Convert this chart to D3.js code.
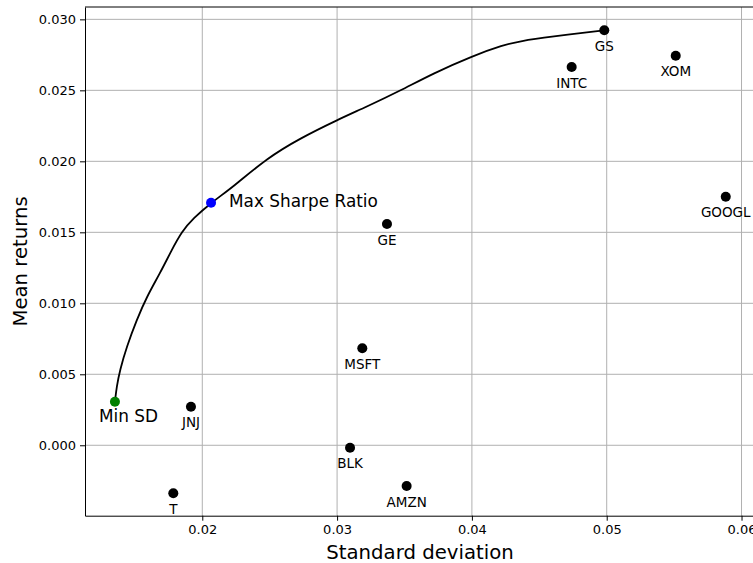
<!DOCTYPE html>
<html>
<head>
<meta charset="utf-8">
<script src="https://cdn.jsdelivr.net/npm/d3@7"></script>
<style>
  body { margin: 0; background: #fff; overflow: hidden; }
  text { font-family: "DejaVu Sans", sans-serif; fill: #000; }
</style>
</head>
<body>
<script>
// stocks (std dev, mean return)
var tickers = ["GS", "XOM", "INTC", "GOOGL", "GE", "MSFT", "JNJ", "BLK", "AMZN", "T"];
var stockSD = [0.04982, 0.05512, 0.04740, 0.05883, 0.03370, 0.03187, 0.01916, 0.03096, 0.03516, 0.01785];
var stockRet = [0.02923, 0.02744, 0.02664, 0.01751, 0.01558, 0.00683, 0.00272, -0.00017, -0.00287, -0.00338];

// efficient frontier
var frontierSD = [0.01352, 0.01365, 0.01389, 0.01439, 0.01513, 0.01588, 0.01686, 0.01773, 0.01847, 0.01933,
                  0.02065, 0.02230, 0.02478, 0.02725, 0.03000, 0.03220, 0.03467, 0.03714, 0.04003, 0.04233,
                  0.04357, 0.04579, 0.04982];
var frontierRet = [0.00307, 0.00413, 0.00530, 0.00694, 0.00882, 0.01046, 0.01211, 0.01375, 0.01504, 0.01599,
                   0.01708, 0.01821, 0.02021, 0.02162, 0.02291, 0.02385, 0.02497, 0.02620, 0.02742, 0.02819,
                   0.02847, 0.02877, 0.02923];

var minSD = [0.01352, 0.00307];
var maxSharpe = [0.02065, 0.01708];

var xTicks = [0.02, 0.03, 0.04, 0.05, 0.06];
var yTicks = [0.000, 0.005, 0.010, 0.015, 0.020, 0.025, 0.030];

var margin = {top: 7, left: 85},
    width = 670,
    height = 508.7;

var svg = d3.select("body").append("svg")
    .attr("width", 753)
    .attr("height", 563);

var g = svg.append("g")
    .attr("transform", "translate(" + margin.left + "," + margin.top + ")");

var x = d3.scaleLinear().domain([0.0113, 0.0610]).range([0, width]);
var y = d3.scaleLinear().domain([-0.00496, 0.03087]).range([height, 0]);

// grid
g.append("g").selectAll("line").data(xTicks).enter().append("line")
    .attr("x1", function (d) { return x(d); })
    .attr("x2", function (d) { return x(d); })
    .attr("y1", 0).attr("y2", height)
    .attr("stroke", "#b0b0b0").attr("stroke-width", 1);
g.append("g").selectAll("line").data(yTicks).enter().append("line")
    .attr("y1", function (d) { return y(d); })
    .attr("y2", function (d) { return y(d); })
    .attr("x1", 0).attr("x2", width)
    .attr("stroke", "#b0b0b0").attr("stroke-width", 1);

// axes
var xAxis = g.append("g")
    .attr("transform", "translate(0," + height + ")")
    .call(d3.axisBottom(x).tickValues(xTicks).tickFormat(d3.format(".2f")).tickSize(5).tickPadding(4).tickSizeOuter(0));
var yAxis = g.append("g")
    .call(d3.axisLeft(y).tickValues(yTicks).tickFormat(d3.format(".3f")).tickSize(5).tickPadding(4).tickSizeOuter(0));
[xAxis, yAxis].forEach(function (a) {
    a.selectAll("text").style("font-size", "13px").style("font-family", "DejaVu Sans");
    a.select(".domain").attr("stroke", "#000");
    a.selectAll(".tick line").attr("stroke", "#000");
});

// top and right spines
g.append("line").attr("x1", 0).attr("x2", width).attr("y1", 0).attr("y2", 0).attr("stroke", "#000");
g.append("line").attr("x1", width).attr("x2", width).attr("y1", 0).attr("y2", height).attr("stroke", "#000");

// frontier line
var frontier = frontierSD.map(function (d, i) { return [d, frontierRet[i]]; });
g.append("path")
    .datum(frontier)
    .attr("fill", "none")
    .attr("stroke", "#000")
    .attr("stroke-width", 1.8)
    .attr("d", d3.line()
        .x(function (d) { return x(d[0]); })
        .y(function (d) { return y(d[1]); })
        .curve(d3.curveBasis));

// stocks
var stocks = tickers.map(function (t, i) { return {name: t, sd: stockSD[i], ret: stockRet[i]}; });
g.selectAll(".stock").data(stocks).enter().append("circle")
    .attr("class", "stock")
    .attr("cx", function (d) { return x(d.sd); })
    .attr("cy", function (d) { return y(d.ret); })
    .attr("r", 5)
    .attr("fill", "#000");
g.selectAll(".stocklabel").data(stocks).enter().append("text")
    .attr("class", "stocklabel")
    .attr("x", function (d) { return x(d.sd); })
    .attr("y", function (d) { return y(d.ret) + 20.5; })
    .attr("text-anchor", "middle")
    .style("font-size", "13.5px")
    .text(function (d) { return d.name; });

// min SD and max sharpe
g.append("circle")
    .attr("cx", x(minSD[0])).attr("cy", y(minSD[1]))
    .attr("r", 5).attr("fill", "green");
g.append("text")
    .attr("x", x(minSD[0]) - 16).attr("y", y(minSD[1]) + 20.6)
    .style("font-size", "16.9px")
    .text("Min SD");

g.append("circle")
    .attr("cx", x(maxSharpe[0])).attr("cy", y(maxSharpe[1]))
    .attr("r", 5).attr("fill", "blue");
g.append("text")
    .attr("x", x(maxSharpe[0]) + 18).attr("y", y(maxSharpe[1]) + 4.5)
    .style("font-size", "16.9px")
    .text("Max Sharpe Ratio");

// axis labels
svg.append("text")
    .attr("x", 420).attr("y", 559)
    .attr("text-anchor", "middle")
    .style("font-size", "19.7px")
    .text("Standard deviation");
svg.append("text")
    .attr("transform", "translate(27," + 261.4 + ") rotate(-90)")
    .attr("text-anchor", "middle")
    .style("font-size", "19.7px")
    .text("Mean returns");
</script>
</body>
</html>
